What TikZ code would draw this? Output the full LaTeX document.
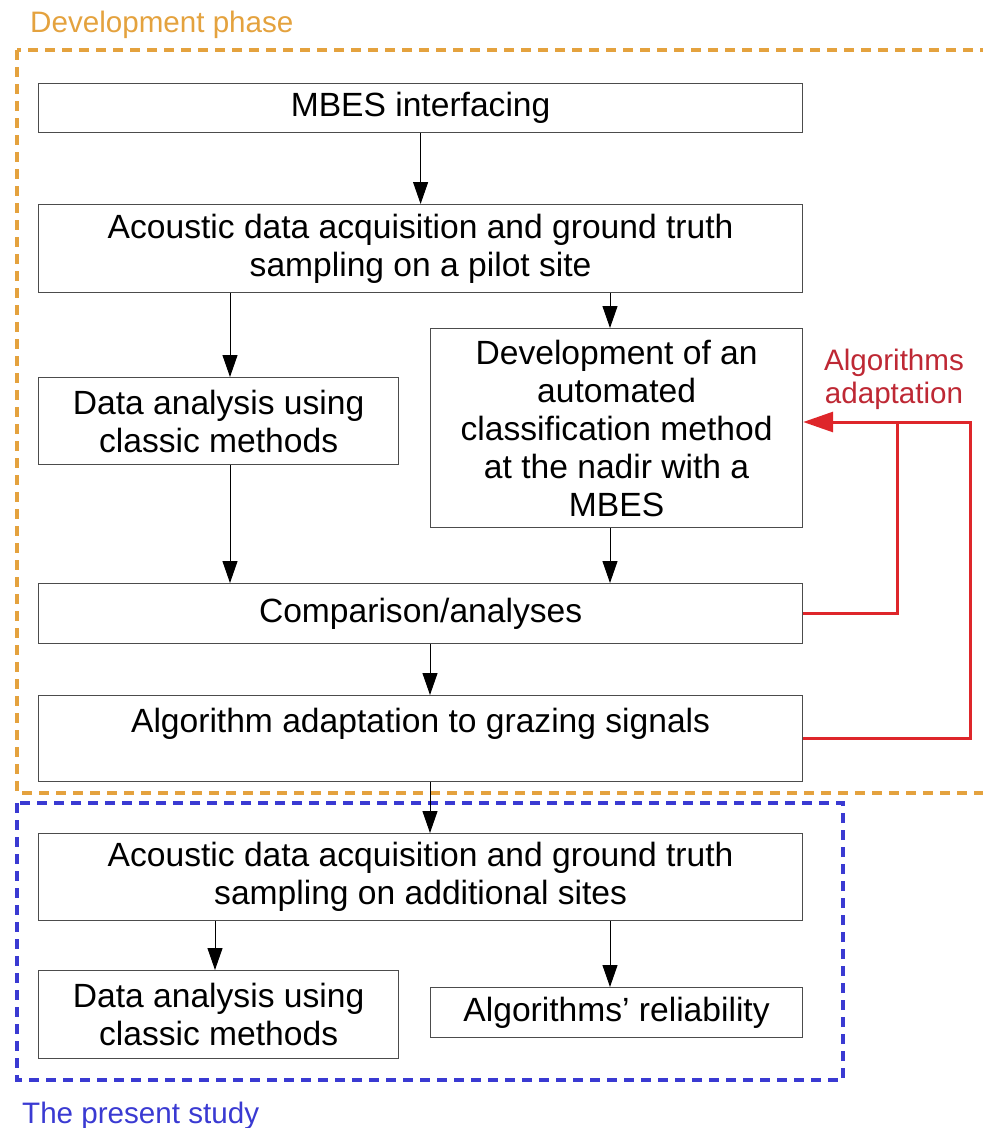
\documentclass[tikz,border=0pt]{standalone}
\usepackage{fontspec}
\setmainfont{Liberation Sans}
\usetikzlibrary{arrows.meta,positioning,calc}
\definecolor{devorange}{RGB}{228,162,62}
\definecolor{studyblue}{RGB}{58,58,210}
\definecolor{adaptred}{RGB}{222,38,42}
\definecolor{adapttext}{RGB}{190,40,52}

\begin{document}
\begin{tikzpicture}[
    x=1pt, y=-1pt,
    box/.style={draw=black!70, line width=1.2pt, anchor=north west, inner sep=0pt, align=center, font=\fontsize{33.6}{38}\selectfont},
    arr/.style={-{Triangle[length=22pt, width=15pt]}, line width=1pt},
    redline/.style={draw=adaptred, line width=3pt},
    phaseframe/.style={line width=4.5pt, dash pattern=on 10pt off 7pt},
    lbl/.style={font=\fontsize{29.6}{33}\selectfont, inner sep=0pt}
]
\useasboundingbox (0,0) rectangle (983,1128);
\draw[phaseframe, devorange] (17,50) rectangle (1010,793);
\draw[phaseframe, studyblue] (17,803) rectangle (843,1080);
\node[lbl, devorange, anchor=base west] (devlabel) at (30,32) {Development phase};
\node[lbl, studyblue, anchor=base west] (studylabel) at (22,1123) {The present study};

\node[box, minimum width=764pt, minimum height=49pt] (mbes) at (38,83) {MBES interfacing};
\node[box, minimum width=764pt, minimum height=88pt] (pilot) at (38,204) {Acoustic data acquisition and ground truth\\sampling on a pilot site};
\node[box, minimum width=360pt, minimum height=87pt] (classic) at (38,377) {Data analysis using\\classic methods};
\node[box, minimum width=372pt, minimum height=199pt] (devel) at (430,328) {Development of an\\automated\\classification method\\at the nadir with a\\MBES};
\node[box, minimum width=764pt, minimum height=60pt] (compare) at (38,583) {Comparison/analyses};
\node[box, minimum width=764pt, text height=37pt, text depth=49pt] (adapt) at (38,695) {Algorithm adaptation to grazing signals};
\node[box, minimum width=764pt, minimum height=87pt] (extra) at (38,833) {Acoustic data acquisition and ground truth\\sampling on additional sites};
\node[box, minimum width=360pt, minimum height=88pt] (classicb) at (38,970) {Data analysis using\\classic methods};
\node[box, minimum width=372pt, minimum height=50pt] (reliab) at (430,987) {Algorithms' reliability};

\coordinate (xa) at (230,0);
\coordinate (xb) at (610,0);
\coordinate (xc) at (430,0);
\coordinate (xd) at (215,0);
\draw[arr] (mbes.south) -- (pilot.north);
\draw[arr] (pilot.south -| xa) -- (classic.north -| xa);
\draw[arr] (pilot.south -| xb) -- (devel.north -| xb);
\draw[arr] (classic.south -| xa) -- (compare.north -| xa);
\draw[arr] (devel.south -| xb) -- (compare.north -| xb);
\draw[arr] (compare.south -| xc) -- (adapt.north -| xc);
\draw[arr] (adapt.south -| xc) -- (extra.north -| xc);
\draw[arr] (extra.south -| xd) -- (classicb.north -| xd);
\draw[arr] (extra.south -| xb) -- (reliab.north -| xb);

\coordinate (loopin) at (897,422);
\coordinate (loopout) at (970,422);
\draw[redline] (compare.east) -| (loopin);
\draw[redline, -{Triangle[length=30pt, width=20pt]}] (adapt.east) -| (loopout) -- (devel.east |- loopout);
\node[lbl, adapttext, align=center, anchor=north] (redlabel) at (894,349) {Algorithms\\adaptation};
\end{tikzpicture}
\end{document}
